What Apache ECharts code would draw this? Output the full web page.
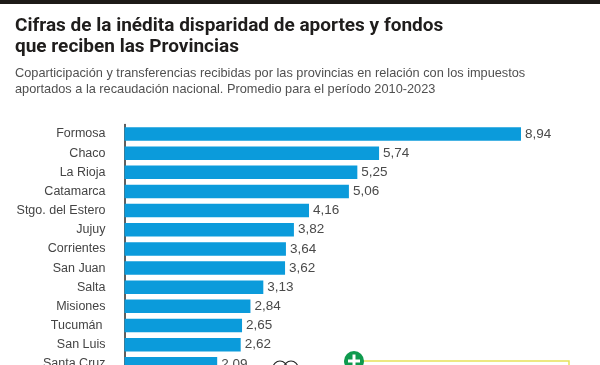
<!DOCTYPE html>
<html>
<head>
<meta charset="utf-8">
<style>
  html, body { margin: 0; padding: 0; background: #fff; }
  #chart { width: 600px; height: 365px; }
</style>
<script src="https://cdn.jsdelivr.net/npm/echarts@6/dist/echarts.min.js"></script>
</head>
<body>
<div id="chart"></div>
<script>
const provincias = ["Formosa", "Chaco", "La Rioja", "Catamarca", "Stgo. del Estero", "Jujuy", "Corrientes", "San Juan", "Salta", "Misiones", "Tucumán", "San Luis", "Santa Cruz"];
const valores = [8.94, 5.74, 5.25, 5.06, 4.16, 3.82, 3.64, 3.62, 3.13, 2.84, 2.65, 2.62, 2.09];

const titulo = "Cifras de la inédita disparidad de aportes y fondos\nque reciben las Provincias";
const bajada = "Coparticipación y transferencias recibidas por las provincias en relación con los impuestos\naportados a la recaudación nacional. Promedio para el período 2010-2023";

const chart = echarts.init(document.getElementById("chart"), null, { renderer: "canvas" });

chart.setOption({
  animation: false,
  backgroundColor: "#fff",
  title: [
    {
      text: titulo,
      left: 15, top: 15, padding: 0,
      textStyle: { fontFamily: "Roboto", fontSize: 19, fontWeight: "bold", color: "#1f1d1c", lineHeight: 21.5 }
    },
    {
      text: bajada,
      left: 15, top: 66, padding: 0,
      textStyle: { fontFamily: "Liberation Sans", fontSize: 12.75, fontWeight: "normal", color: "#505050", lineHeight: 15.7 }
    }
  ],
  // la última fila queda cortada por el borde, como en la imagen original
  grid: { left: 124.5, top: 124.4, width: 443.5, height: 249, outerBoundsMode: "none" },
  xAxis: { type: "value", min: 0, max: 10, show: false },
  yAxis: {
    type: "category",
    inverse: true,
    data: provincias.map(p => p === "Tucumán" ? { value: p, textStyle: { padding: [0, 3, 0, 0] } } : p),
    axisTick: { show: false },
    axisLine: { show: true, lineStyle: { color: "#2a2a2a", width: 1.5 } },
    axisLabel: { margin: 19, fontFamily: "Liberation Sans", fontSize: 12.5, color: "#444" }
  },
  series: [
    {
      type: "bar",
      data: valores,
      barWidth: 13.5,
      itemStyle: { color: "#0b9bdb" },
      label: {
        show: true,
        position: "right",
        distance: 4,
        fontFamily: "Liberation Sans",
        fontSize: 13.5,
        color: "#4a4a4a",
        formatter: p => p.value.toFixed(2).replace(".", ",")
      }
    }
  ],
  graphic: [
    // franja superior
    { type: "rect", shape: { x: 0, y: 0, width: 600, height: 4 }, style: { fill: "#1d1a17" } },
    // recuadro amarillo
    { type: "rect", shape: { x: 354, y: 361, width: 215, height: 20 }, style: { fill: "#fff", stroke: "#e6e25a", lineWidth: 1.5 } },
    // icono mas
    { type: "circle", shape: { cx: 354, cy: 361, r: 10 }, style: { fill: "#0f9a4e" } },
    { type: "rect", shape: { x: 348, y: 359.5, width: 12, height: 3 }, style: { fill: "#fff" } },
    { type: "rect", shape: { x: 352.5, y: 354.5, width: 3, height: 11 }, style: { fill: "#fff" } },
    // dibujo de manos, apenas visible
    { type: "circle", shape: { cx: 280, cy: 368, r: 7 }, style: { fill: "none", stroke: "#222", lineWidth: 1.2 } },
    { type: "circle", shape: { cx: 291, cy: 368, r: 7 }, style: { fill: "none", stroke: "#222", lineWidth: 1.2 } }
  ]
});
</script>
</body>
</html>
